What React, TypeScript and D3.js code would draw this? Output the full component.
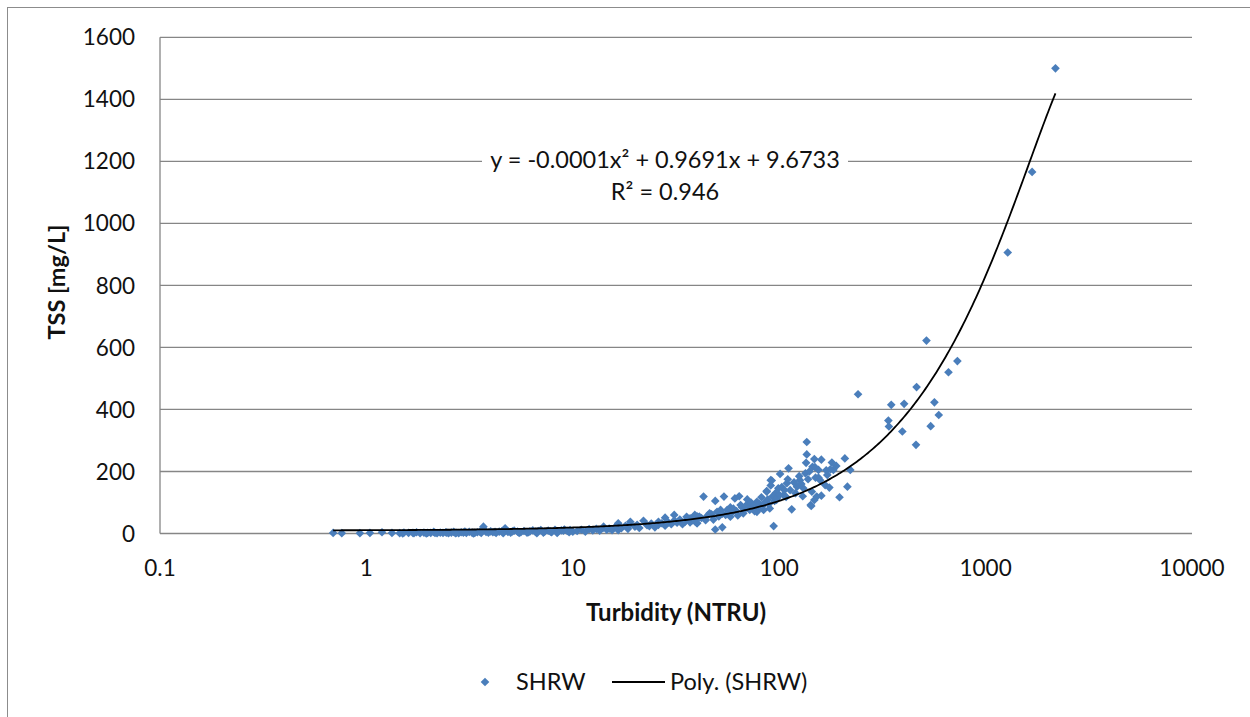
import React, { useEffect, useRef } from "react"
import * as d3 from "d3"

// SHRW samples: turbidity (NTRU) and TSS (mg/L)
const turbidity = [
    0.69, 0.76, 0.93, 1.04, 1.19, 1.33, 1.45, 1.52, 1.6, 1.68, 1.75, 1.82, 1.9, 1.98, 2.05, 2.12,
    2.2, 2.28, 2.35, 2.42, 2.5, 2.58, 2.65, 2.72, 2.8, 2.88, 2.95, 3.05, 3.15, 3.25, 3.35, 3.45,
    3.55, 3.69, 3.8, 3.9, 4.0, 4.1, 4.25, 4.4, 4.55, 4.7, 4.85, 5.0, 5.2, 5.4, 5.6, 5.8, 6.0, 6.2,
    6.4, 6.6, 6.8, 7.0, 7.3, 7.6, 7.9, 8.2, 8.5, 8.8, 9.1, 9.4, 9.7, 10,
    1.5, 1.7, 1.95, 2.15, 2.45, 2.7, 3.0, 3.3, 3.6, 4.2, 4.6, 5.1, 5.5, 6.1, 6.7, 7.2, 7.8, 8.4, 9.0, 9.6,
    10.5, 11, 11.5, 12, 12.5, 13, 13.5, 14, 14.1, 14.6, 15, 15.5, 16, 16.6, 16.6, 17.2, 18, 18.5, 19,
    19, 20, 20.5, 21, 22, 22.9, 23.5, 24, 25, 26, 26, 27, 28, 28, 29, 30, 31, 31, 32, 33, 34, 35, 35.6,
    36, 37, 37, 38, 39, 39, 40, 40, 41,
    43, 49, 54, 61, 64, 49, 53, 65, 58, 72, 84, 46, 41, 38, 52, 56, 67, 78, 90, 97, 105, 44, 40, 58,
    37, 72, 78, 84, 87, 91, 101, 111, 82, 78, 70, 94, 87, 92, 91, 99, 109, 113, 122, 131, 126, 134,
    144, 152, 142, 115, 136, 136, 135, 148,
    42, 45, 47, 48, 50, 51, 53, 55, 57, 59, 60, 62, 63, 66, 68, 69, 71, 73, 75, 76, 80, 82, 85, 88,
    89, 93, 95, 96, 98, 100, 103, 106, 108, 110, 118, 120, 125, 128, 130, 138, 140, 145, 150, 155,
    160, 149, 169, 180, 189, 208, 221, 183, 177, 171, 155, 158, 167, 175, 214, 196, 160, 148, 143,
    241, 349, 403, 463, 565, 593, 542, 338, 340, 395, 460, 517, 661, 730, 1280, 1680, 2180,
]
const tss = [
    2, 1, 1, 2, 4, 2, 1, 3, 2, 2, 4, 1, 3, 2, 2, 5,
    1, 3, 2, 4, 1, 3, 5, 2, 1, 4, 3, 2, 5, 3, 2, 4,
    6, 22, 5, 3, 7, 4, 2, 6, 8, 17, 5, 3, 9, 6, 4, 8, 3, 7,
    10, 5, 8, 11, 6, 9, 4, 12, 7, 10, 13, 8, 11, 6,
    0, 1, 0, 2, 3, 1, 6, 0, 2, 5, 1, 7, 2, 4, 1, 3, 6, 2, 9, 4,
    8, 12, 6, 14, 10, 15, 9, 18, 22, 12, 16, 11, 20, 33, 11, 17, 25, 15, 38,
    30, 22, 28, 18, 41, 27, 24, 32, 20, 38, 28, 33, 25, 51, 36, 30, 60, 42, 35, 45, 30, 38, 54,
    48, 43, 36, 50, 60, 40, 33, 55, 54,
    119, 105, 119, 113, 120, 13, 20, 92, 84, 76, 92, 65, 54, 43, 76, 76, 65, 76, 81, 108, 124, 43, 33, 54,
    49, 92, 70, 76, 135, 172, 192, 210, 117, 102, 110, 24, 137, 171, 155, 146, 162, 140, 151, 146, 172, 194,
    135, 119, 92, 78, 295, 255, 228, 240,
    50, 58, 62, 45, 70, 55, 64, 60, 70, 68, 80, 72, 58, 85, 78, 90, 82, 100, 88, 72, 95, 88, 100, 110,
    95, 120, 105, 130, 115, 125, 150, 140, 118, 175, 165, 130, 185, 160, 120, 175, 200, 215, 180, 205,
    238, 214, 204, 229, 218, 242, 205, 205, 207, 189, 180, 172, 156, 148, 151, 117, 122, 108, 89,
    449, 415, 418, 472, 423, 382, 346, 364, 345, 329, 286, 622, 520, 556, 906, 1166, 1500,
]

const xTicks = [0.1, 1, 10, 100, 1000, 10000]
const yTicks = [0, 200, 400, 600, 800, 1000, 1200, 1400, 1600]

// Poly. (SHRW) trendline; the printed x^2 coefficient is rounded to -0.0001
const trendCoef = [-0.000148, 0.9691, 9.6733]
const equationText = "y = -0.0001x² + 0.9691x + 9.6733"
const r2Text = "R² = 0.946"

const FONT = "Lato, 'Open Sans', sans-serif"
const GRID = "#868686"
const BLUE = "#4A7EBB"

const App = () => {
    const chartRef = useRef<SVGSVGElement | null>(null)

    useEffect(() => {
        if (!chartRef.current) return
        const svg = d3.select(chartRef.current)
        svg.selectAll("*").remove()

        const plot = { left: 160, right: 1192, top: 37.3, bottom: 533.5 }

        const x = d3.scaleLog().domain([0.1, 10000]).range([plot.left, plot.right])
        const y = d3.scaleLinear().domain([0, 1600]).range([plot.bottom, plot.top])

        // chart border
        svg.append("rect")
            .attr("x", 7.5)
            .attr("y", 7.5)
            .attr("width", 1260)
            .attr("height", 730)
            .attr("fill", "#fff")
            .attr("stroke", "#8c8c8c")
            .attr("stroke-width", 1)

        // horizontal gridlines
        svg.append("g")
            .selectAll("line")
            .data(yTicks)
            .enter()
            .append("line")
            .attr("x1", plot.left)
            .attr("x2", plot.right)
            .attr("y1", (d) => y(d))
            .attr("y2", (d) => y(d))
            .attr("stroke", GRID)
            .attr("stroke-width", 1.3)

        // vertical axis line
        svg.append("line")
            .attr("x1", plot.left)
            .attr("x2", plot.left)
            .attr("y1", plot.top)
            .attr("y2", plot.bottom)
            .attr("stroke", GRID)
            .attr("stroke-width", 1.3)

        // y tick labels
        svg.append("g")
            .selectAll("text")
            .data(yTicks)
            .enter()
            .append("text")
            .attr("x", 135)
            .attr("y", (d) => y(d))
            .attr("dy", "0.36em")
            .attr("text-anchor", "end")
            .attr("font-family", FONT)
            .attr("font-size", "22.5px")
            .attr("fill", "#111")
            .text((d) => String(d))

        // x tick labels
        svg.append("g")
            .selectAll("text")
            .data(xTicks)
            .enter()
            .append("text")
            .attr("x", (d) => x(d))
            .attr("y", 568)
            .attr("dy", "0.36em")
            .attr("text-anchor", "middle")
            .attr("font-family", FONT)
            .attr("font-size", "22.5px")
            .attr("fill", "#111")
            .text((d) => String(d))

        // axis titles
        svg.append("text")
            .attr("x", 676)
            .attr("y", 612)
            .attr("dy", "0.36em")
            .attr("text-anchor", "middle")
            .attr("font-family", FONT)
            .attr("font-weight", 700)
            .attr("font-size", "24px")
            .attr("fill", "#111")
            .text("Turbidity (NTRU)")

        svg.append("text")
            .attr("transform", "translate(57,282) rotate(-90)")
            .attr("dy", "0.36em")
            .attr("text-anchor", "middle")
            .attr("font-family", FONT)
            .attr("font-weight", 700)
            .attr("font-size", "23.5px")
            .attr("fill", "#111")
            .text("TSS [mg/L]")

        // data points
        const diamond = d3.symbol().type(d3.symbolDiamond2).size(48)
        svg.append("g")
            .selectAll("path")
            .data(d3.range(turbidity.length))
            .enter()
            .append("path")
            .attr("d", diamond)
            .attr("transform", (i) => "translate(" + x(turbidity[i]) + "," + y(tss[i]) + ")")
            .attr("fill", BLUE)

        // trendline over the data extent
        const [tMin, tMax] = d3.extent(turbidity) as [number, number]
        const trendX = d3.range(0, 401).map((i) => tMin * Math.pow(tMax / tMin, i / 400))
        const poly = (v: number) => trendCoef[0] * v * v + trendCoef[1] * v + trendCoef[2]
        const line = d3
            .line<number>()
            .x((v) => x(v))
            .y((v) => y(poly(v)))
        svg.append("path")
            .datum(trendX)
            .attr("d", line)
            .attr("fill", "none")
            .attr("stroke", "#000")
            .attr("stroke-width", 1.8)

        // trendline label with white box
        svg.append("rect")
            .attr("x", 482)
            .attr("y", 142)
            .attr("width", 366)
            .attr("height", 66)
            .attr("fill", "#fff")
        svg.append("text")
            .attr("x", 665)
            .attr("y", 160)
            .attr("dy", "0.36em")
            .attr("text-anchor", "middle")
            .attr("font-family", FONT)
            .attr("font-size", "23.5px")
            .attr("fill", "#111")
            .text(equationText)
        svg.append("text")
            .attr("x", 665)
            .attr("y", 192)
            .attr("dy", "0.36em")
            .attr("text-anchor", "middle")
            .attr("font-family", FONT)
            .attr("font-size", "23.5px")
            .attr("fill", "#111")
            .text(r2Text)

        // legend
        const legend = svg.append("g")
        legend.append("path")
            .attr("d", diamond)
            .attr("transform", "translate(485,682)")
            .attr("fill", BLUE)
        legend.append("text")
            .attr("x", 516)
            .attr("y", 682)
            .attr("dy", "0.36em")
            .attr("font-family", FONT)
            .attr("font-size", "23.5px")
            .attr("fill", "#111")
            .text("SHRW")
        legend.append("line")
            .attr("x1", 612)
            .attr("x2", 665)
            .attr("y1", 682)
            .attr("y2", 682)
            .attr("stroke", "#000")
            .attr("stroke-width", 1.8)
        legend.append("text")
            .attr("x", 670)
            .attr("y", 682)
            .attr("dy", "0.36em")
            .attr("font-family", FONT)
            .attr("font-size", "23.5px")
            .attr("fill", "#111")
            .text("Poly. (SHRW)")
    }, [])

    return (
        <div style={{ position: "absolute", left: 0, top: 0, width: 1250, height: 717, overflow: "hidden" }}>
            <svg ref={chartRef} width={1250} height={717} style={{ display: "block" }} />
        </div>
    )
}

export default App
